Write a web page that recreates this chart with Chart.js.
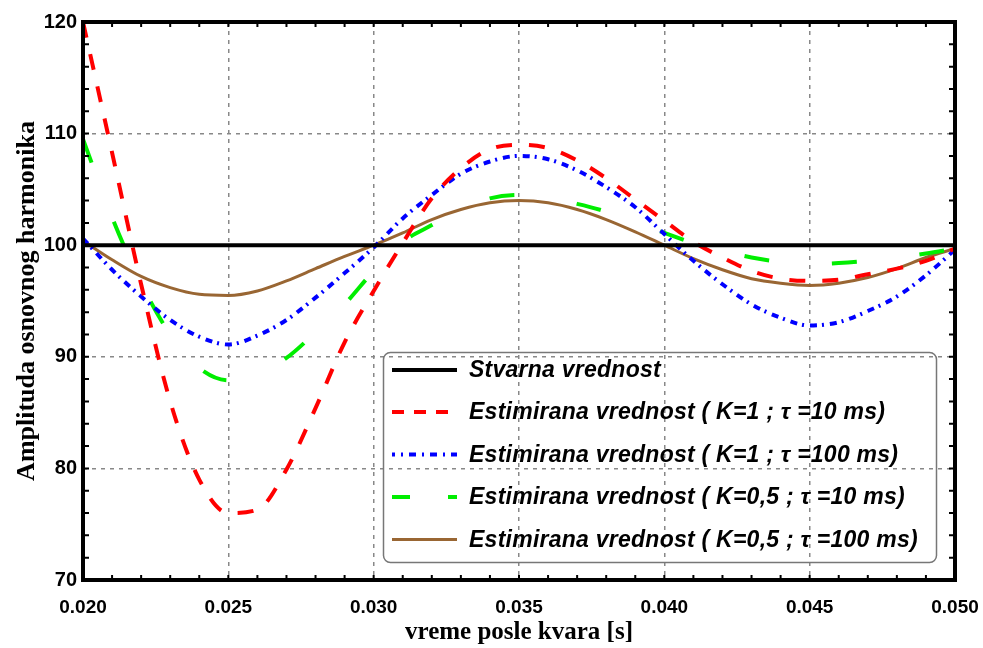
<!DOCTYPE html>
<html>
<head>
<meta charset="utf-8">
<script src="https://cdn.jsdelivr.net/npm/chart.js@4"></script>
<style>
  html, body { margin: 0; padding: 0; background: #fff; }
  #wrap { width: 983px; height: 648px; }
</style>
</head>
<body>
<div id="wrap"><canvas id="c" width="983" height="648"></canvas></div>
<script>
// time after fault, seconds (1 ms steps)
var timeS = [];
for (var i = 0; i <= 30; i++) timeS.push(+(0.020 + i * 0.001).toFixed(3));

// values
var stvarna = [100, 100, 100, 100, 100, 100, 100, 100, 100, 100, 100, 100, 100, 100, 100, 100,
  100, 100, 100, 100, 100, 100, 100, 100, 100, 100, 100, 100, 100, 100, 100];
var k1tau10 = [120, 108.3, 96.5, 86.0, 79.0, 76.0, 76.3, 79.9, 85.4, 91.3, 95.9,
  100.2, 104.2, 106.9, 108.6, 109.0, 108.7, 107.6, 106.0, 104.1, 102.2,
  100.3, 98.9, 97.7, 97.0, 96.8, 96.9, 97.4, 97.9, 98.6, 99.7];
var k1tau100 = [100.6, 97.8, 95.4, 93.3, 91.8, 91.1, 91.9, 93.3, 95.3, 97.5, 99.8,
  102.4, 104.5, 106.4, 107.5, 108.0, 107.7, 106.7, 105.2, 103.4, 101.0,
  98.6, 96.5, 94.7, 93.5, 92.8, 93.1, 94.1, 95.4, 97.3, 99.6];
var k05tau10 = [109.5, 102.5, 96.6, 92.0, 89.0, 87.9, 88.5, 89.9, 92.2, 94.7, 97.7,
  100.3, 101.8, 103.2, 104.2, 104.5, 104.2, 103.7, 103.0, 102.0, 101.1,
  100.2, 99.5, 98.9, 98.5, 98.3, 98.4, 98.6, 98.9, 99.25, 99.7];
var k05tau100 = [100.4, 98.7, 97.2, 96.2, 95.6, 95.5, 95.9, 96.8, 97.9, 99.0, 100.0,
  101.1, 102.3, 103.2, 103.8, 104.0, 103.8, 103.2, 102.3, 101.2, 100.0,
  98.8, 97.8, 97.0, 96.6, 96.4, 96.6, 97.1, 97.9, 98.9, 99.7];

var seriesNames = [
  'Stvarna vrednost',
  'Estimirana vrednost ( K=1 ; \u03C4 =10 ms)',
  'Estimirana vrednost ( K=1 ; \u03C4 =100 ms)',
  'Estimirana vrednost ( K=0,5 ; \u03C4 =10 ms)',
  'Estimirana vrednost ( K=0,5 ; \u03C4 =100 ms)'
];
var xTicks = [0.020, 0.025, 0.030, 0.035, 0.040, 0.045, 0.050];
var yTicks = [70, 80, 90, 100, 110, 120];

function pts(vals) {
  return vals.map(function(v, i) { return { x: timeS[i], y: v }; });
}

// dash patterns for the little legend samples
var legendDash = [[], [12, 10], [7, 6, 2, 6], [18, 38], []];
var legendOffset = [0, 0, 4, 0, 0];

var frameAndLegend = {
  id: 'frameAndLegend',
  afterDatasetsDraw: function(chart) {
    var ctx = chart.ctx, a = chart.chartArea;
    var xs = chart.scales.x, ys = chart.scales.y;
    ctx.save();
    // small inward ticks
    ctx.strokeStyle = '#000';
    ctx.lineWidth = 2;
    ctx.beginPath();
    for (var v = 70; v <= 120; v += 2) {
      var py = ys.getPixelForValue(v);
      ctx.moveTo(a.left, py); ctx.lineTo(a.left + 6, py);
      ctx.moveTo(a.right, py); ctx.lineTo(a.right - 6, py);
    }
    for (var t = 20; t <= 50; t++) {
      var px = xs.getPixelForValue(t / 1000);
      ctx.moveTo(px, a.bottom); ctx.lineTo(px, a.bottom - 5);
      ctx.moveTo(px, a.top); ctx.lineTo(px, a.top + 5);
    }
    ctx.stroke();
    // frame
    ctx.lineWidth = 4;
    ctx.strokeRect(a.left, a.top, a.right - a.left, a.bottom - a.top);

    // legend
    var bx = 383.5, by = 352.5, bw = 553, bh = 210;
    ctx.lineWidth = 1.5;
    ctx.strokeStyle = '#777';
    ctx.beginPath();
    ctx.roundRect(bx, by, bw, bh, 7);
    ctx.stroke();
    var rows = [370, 412, 454.5, 497, 539.5];
    chart.data.datasets.forEach(function(ds, i) {
      ctx.strokeStyle = ds.borderColor;
      ctx.lineWidth = ds.borderWidth;
      ctx.setLineDash(legendDash[i]);
      ctx.lineDashOffset = legendOffset[i];
      ctx.beginPath();
      ctx.moveTo(392, rows[i]);
      ctx.lineTo(457, rows[i]);
      ctx.stroke();
      ctx.setLineDash([]);
      ctx.fillStyle = '#000';
      ctx.font = 'italic bold 23px "Liberation Sans", Arial, sans-serif';
      ctx.letterSpacing = '0.25px';
      ctx.textBaseline = 'middle';
      ctx.textAlign = 'left';
      ctx.fillText(ds.label, 469, rows[i] + 1);
    });
    ctx.restore();
  }
};

new Chart(document.getElementById('c'), {
  type: 'line',
  data: {
    datasets: [
      { label: seriesNames[0], data: pts(stvarna), borderColor: '#000000', borderWidth: 4 },
      { label: seriesNames[1], data: pts(k1tau10), borderColor: '#ff0000', borderWidth: 4, borderDash: [16, 17] },
      { label: seriesNames[2], data: pts(k1tau100), borderColor: '#0000ff', borderWidth: 4, borderDash: [7, 5, 2, 6] },
      { label: seriesNames[3], data: pts(k05tau10), borderColor: '#00ee00', borderWidth: 4, borderDash: [25, 63] },
      { label: seriesNames[4], data: pts(k05tau100), borderColor: '#996633', borderWidth: 3 }
    ]
  },
  options: {
    responsive: false,
    animation: false,
    layout: { padding: { top: 22, right: 28, left: 0, bottom: 0 } },
    elements: {
      point: { radius: 0 },
      line: { cubicInterpolationMode: 'monotone', fill: false }
    },
    plugins: { legend: { display: false }, tooltip: { enabled: false } },
    scales: {
      x: {
        type: 'linear',
        min: 0.020, max: 0.050,
        afterFit: function(s) { s.height = 68; s.paddingLeft = 0; s.paddingRight = 0; },
        afterBuildTicks: function(s) { s.ticks = xTicks.map(function(v) { return { value: v }; }); },
        border: { display: false, dash: [4, 5] },
        grid: { color: '#888', lineWidth: 1.5, drawTicks: false },
        ticks: {
          color: '#000',
          padding: 16,
          maxRotation: 0,
          font: { family: '"Liberation Sans", Arial, sans-serif', weight: 'bold', size: 19 },
          callback: function(v) { return v.toFixed(3); }
        },
        title: {
          display: true,
          text: 'vreme posle kvara [s]',
          color: '#000',
          padding: 0,
          font: { family: '"Liberation Serif", "Times New Roman", serif', weight: 'bold', size: 25, lineHeight: 1.2 }
        }
      },
      y: {
        min: 70, max: 120,
        afterFit: function(s) { s.width = 83; s.paddingTop = 0; s.paddingBottom = 0; },
        afterBuildTicks: function(s) { s.ticks = yTicks.map(function(v) { return { value: v }; }); },
        border: { display: false, dash: [4, 5] },
        grid: { color: '#888', lineWidth: 1.5, drawTicks: false },
        ticks: {
          color: '#000',
          padding: 6,
          font: { family: '"Liberation Sans", Arial, sans-serif', weight: 'bold', size: 20 }
        },
        title: {
          display: true,
          text: 'Amplituda osnovnog harmonika',
          color: '#000',
          padding: { top: 12, bottom: 0 },
          font: { family: '"Liberation Serif", "Times New Roman", serif', weight: 'bold', size: 26, lineHeight: 1.2 }
        }
      }
    }
  },
  plugins: [frameAndLegend]
});
</script>
</body>
</html>
